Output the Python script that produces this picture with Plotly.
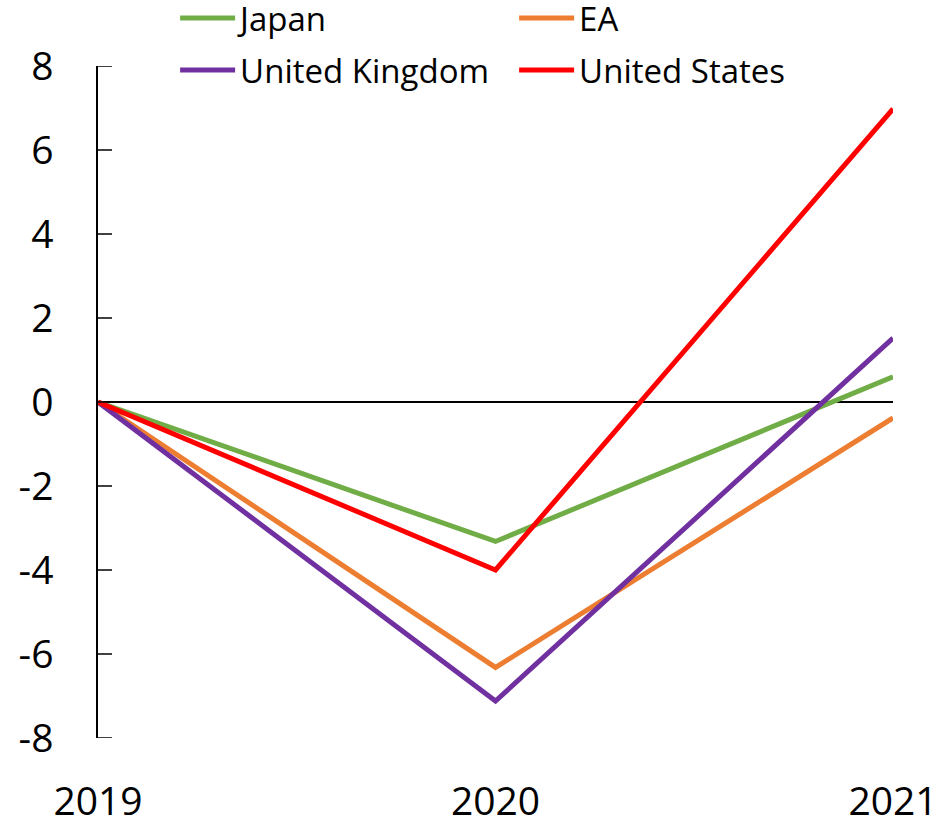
import plotly.graph_objects as go

years = ["2019", "2020", "2021"]
y_ticks = [-8, -6, -4, -2, 0, 2, 4, 6, 8]
y_tick_labels = ["-8", "-6", "-4", "-2", "0", "2", "4", "6", "8"]
japan = [0, -3.32, 0.6]
ea = [0, -6.32, -0.38]
uk = [0, -7.12, 1.52]
us = [0, -4.0, 6.98]

series = [
    ("Japan", japan, "#70AD47", "legend"),
    ("EA", ea, "#ED7D31", "legend"),
    ("United Kingdom", uk, "#7030A0", "legend2"),
    ("United States", us, "#FF0000", "legend2"),
]

FONT = "Open Sans"
PLOT_W = 937 - 98 - 44
fig = go.Figure()
for name, vals, color, lg in series:
    fig.add_trace(go.Scatter(
        x=[0, 1, 2], y=vals, mode="lines", name=name,
        line=dict(color=color, width=5), legend=lg,
    ))

# inward-pointing y tick marks on the left axis
for t in y_ticks:
    fig.add_shape(
        type="line", xref="paper", yref="y",
        x0=0, x1=14 / PLOT_W, y0=t, y1=t,
        line=dict(color="black", width=1.5), layer="above",
    )

leg_common = dict(
    orientation="h", xanchor="left", yanchor="middle",
    font=dict(family=FONT, size=33, color="black"),
    bgcolor="rgba(0,0,0,0)", entrywidth=269, entrywidthmode="pixels",
    itemwidth=55, tracegroupgap=0,
)

fig.update_layout(
    width=937, height=822,
    margin=dict(l=98, r=44, t=66, b=84, autoexpand=False),
    plot_bgcolor="white", paper_bgcolor="white",
    font=dict(family=FONT, size=39, color="black"),
    legend=dict(x=0.097, y=1.0714, **leg_common),
    legend2=dict(x=0.097, y=0.994, **leg_common),
    xaxis=dict(
        range=[0, 2], tickmode="array", tickvals=[0, 1, 2], ticktext=years,
        showline=False, showgrid=False, zeroline=False, ticks="",
        ticklabelstandoff=37, ticklabeloverflow="allow",
        tickfont=dict(size=39),
    ),
    yaxis=dict(
        range=[-8, 8], tickmode="array", tickvals=y_ticks, ticktext=y_tick_labels,
        showline=True, linecolor="black", linewidth=1.5,
        ticks="", showgrid=False,
        zeroline=True, zerolinecolor="black", zerolinewidth=1.5,
        ticklabelstandoff=35, ticklabeloverflow="allow",
        tickfont=dict(size=39),
    ),
    showlegend=True,
)

fig.write_html(
    "out.html",
    config={"displayModeBar": False},
    post_script="document.body.style.margin='0';document.body.style.overflow='hidden';",
)
